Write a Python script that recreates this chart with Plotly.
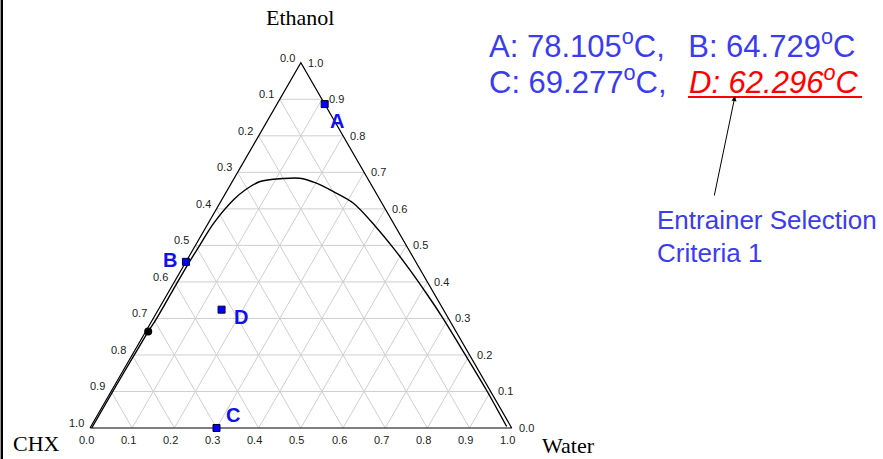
import math
import plotly.graph_objects as go

# ---------------- data ----------------
tick_values = [0.0, 0.1, 0.2, 0.3, 0.4, 0.5, 0.6, 0.7, 0.8, 0.9, 1.0]
tick_labels = ["0.0", "0.1", "0.2", "0.3", "0.4", "0.5", "0.6", "0.7", "0.8", "0.9", "1.0"]
grid_values = [0.1, 0.2, 0.3, 0.4, 0.5, 0.6, 0.7, 0.8, 0.9]

# binodal curve: (ethanol, water) mole fractions; CHX = 1 - ethanol - water
curve_ethanol = [0.000, 0.050, 0.113, 0.200, 0.264, 0.296, 0.378, 0.442, 0.501, 0.561,
                 0.625, 0.653, 0.675, 0.683, 0.684, 0.671, 0.647, 0.616, 0.552, 0.492,
                 0.433, 0.369, 0.305, 0.205, 0.104, 0.004]
curve_water = [0.004, 0.004, 0.004, 0.005, 0.006, 0.008, 0.008, 0.008, 0.010, 0.013,
               0.028, 0.043, 0.066, 0.115, 0.155, 0.200, 0.254, 0.316, 0.401, 0.474,
               0.542, 0.613, 0.682, 0.785, 0.888, 0.986]

point_names = ["A", "B", "C", "D"]
point_ethanol = [0.887, 0.455, 0.000, 0.324]
point_water = [0.113, 0.000, 0.300, 0.150]
point_temps = [78.105, 64.729, 69.277, 62.296]

azeo_ethanol = [0.264]
azeo_water = [0.006]

vertex_names = ["Ethanol", "CHX", "Water"]

# ---------------- helpers ----------------
S3 = math.sqrt(3) / 2


def to_xy(eth, water):
    return water + eth / 2.0, eth * S3


W, H = 883, 459
X0, Y0, SCALE = 90.0, 428.0, 421.7  # pixel position of CHX vertex and px per unit side


def px(xp, yp):
    return xp / W, 1 - yp / H


fig = go.Figure()

# grid lines
gx, gy = [], []
for t in grid_values:
    for (e1, w1), (e2, w2) in [
        ((t, 0.0), (t, 1 - t)),            # constant ethanol
        ((0.0, t), (1 - t, t)),            # constant water
        ((0.0, 1 - t), (1 - t, 0.0)),      # constant CHX
    ]:
        a = to_xy(e1, w1)
        b = to_xy(e2, w2)
        gx += [a[0], b[0], None]
        gy += [a[1], b[1], None]
fig.add_trace(go.Scatter(x=gx, y=gy, mode="lines", line=dict(color="#cfcfcf", width=1),
                         hoverinfo="skip", showlegend=False))

# curve
cx, cy = zip(*[to_xy(e, w) for e, w in zip(curve_ethanol, curve_water)])
fig.add_trace(go.Scatter(x=list(cx), y=list(cy), mode="lines",
                         line=dict(color="black", width=1.4, shape="spline", smoothing=0.9),
                         showlegend=False))

# triangle
tri = [to_xy(0, 0), to_xy(0, 1), to_xy(1, 0), to_xy(0, 0)]
fig.add_trace(go.Scatter(x=[p[0] for p in tri], y=[p[1] for p in tri], mode="lines",
                         line=dict(color="black", width=1.2), showlegend=False))

# azeotrope dot
ax_, ay_ = zip(*[to_xy(e, w) for e, w in zip(azeo_ethanol, azeo_water)])
fig.add_trace(go.Scatter(x=list(ax_), y=list(ay_), mode="markers",
                         marker=dict(color="black", size=8), showlegend=False))

# points
pxs, pys = zip(*[to_xy(e, w) for e, w in zip(point_ethanol, point_water)])
fig.add_trace(go.Scatter(x=list(pxs), y=list(pys), mode="markers",
                         marker=dict(symbol="square", color="#0000ff", size=7,
                                     line=dict(color="#000033", width=1)),
                         showlegend=False))

annotations = []
tick_font = dict(family="Liberation Sans, Arial, sans-serif", size=11, color="#222222")
for t, lab in zip(tick_values, tick_labels):
    # left edge: CHX fraction
    x, y = to_xy(1 - t, 0.0)
    annotations.append(dict(x=x, y=y, text=lab, showarrow=False, xanchor="right", yanchor="middle",
                            xshift=-4, yshift=5, font=tick_font))
    # bottom edge: water fraction
    x, y = to_xy(0.0, t)
    annotations.append(dict(x=x, y=y, text=lab, showarrow=False, xanchor="center", yanchor="middle",
                            xshift=-4, yshift=-12, font=tick_font))
    # right edge: ethanol fraction
    x, y = to_xy(t, 1 - t)
    annotations.append(dict(x=x, y=y, text=lab, showarrow=False, xanchor="left", yanchor="middle",
                            xshift=5, yshift=0, font=tick_font))

# point labels
label_shifts = {"A": (12, -17), "B": (-16, 2), "C": (16, 13), "D": (19, -7)}
lab_font = dict(family="Liberation Sans, Arial, sans-serif", size=20, color="#1010f0")
for n, x, y in zip(point_names, pxs, pys):
    dx, dy = label_shifts[n]
    annotations.append(dict(x=x, y=y, text="<b>%s</b>" % n, showarrow=False, xanchor="center",
                            yanchor="middle", xshift=dx, yshift=dy, font=lab_font))

# vertex titles
serif = dict(family="Liberation Serif, Times New Roman, serif", size=22, color="black")
for name, (xp, yp) in zip(vertex_names, [(300, 18), (36, 443), (568, 445)]):
    x, y = px(xp, yp)
    annotations.append(dict(x=x, y=y, xref="paper", yref="paper", text=name, showarrow=False,
                            xanchor="center", yanchor="middle", font=serif))

# temperature text
blue = "#3b3bf2"
big = dict(family="Liberation Sans, Arial, sans-serif", size=31, color=blue)
NB = "\u00a0"
t_txt = ["%s: %.3f<sup>o</sup>C" % (n, v) for n, v in zip(point_names, point_temps)]
x, y = px(487, 44)
annotations.append(dict(x=x, y=y, xref="paper", yref="paper",
                        text=t_txt[0] + "," + NB * 2 + "\u2009" + t_txt[1],
                        showarrow=False, xanchor="left", yanchor="middle", font=big))
x, y = px(487, 80)
annotations.append(dict(x=x, y=y, xref="paper", yref="paper", text=t_txt[2] + ",",
                        showarrow=False, xanchor="left", yanchor="middle", font=big))
x, y = px(687, 80)
annotations.append(dict(x=x, y=y, xref="paper", yref="paper", text="<i>" + t_txt[3] + "</i>",
                        showarrow=False, xanchor="left", yanchor="middle",
                        font=dict(family="Liberation Sans, Arial, sans-serif", size=31, color="#ff0000")))

# arrow
x, y = px(735, 96)
annotations.append(dict(x=x, y=y, xref="paper", yref="paper", text="", showarrow=True,
                        ax=-21, ay=101, arrowhead=2, arrowsize=1, arrowwidth=1, arrowcolor="black",
                        standoff=0, startstandoff=0))

ent_font = dict(family="Liberation Sans, Arial, sans-serif", size=26, color=blue)
for txt, yp in [("Entrainer Selection", 220), ("Criteria 1", 253)]:
    x, y = px(655, yp)
    annotations.append(dict(x=x, y=y, xref="paper", yref="paper", text=txt, showarrow=False,
                            xanchor="left", yanchor="middle", font=ent_font))

shapes = [
    dict(type="rect", xref="paper", yref="paper", x0=0.6 / W, x1=3.0 / W, y0=0, y1=1,
         line=dict(width=0), fillcolor="black", layer="above"),
    dict(type="line", xref="paper", yref="paper", x0=688 / W, x1=862 / W, y0=1 - 97 / H, y1=1 - 97 / H,
         line=dict(color="#ff0000", width=2)),
]

fig.update_layout(
    width=W, height=H,
    margin=dict(l=0, r=0, t=0, b=0),
    paper_bgcolor="white", plot_bgcolor="white",
    xaxis=dict(range=[-X0 / SCALE, (W - X0) / SCALE], visible=False, fixedrange=True),
    yaxis=dict(range=[(Y0 - H) / SCALE, Y0 / SCALE], visible=False, fixedrange=True),
    annotations=annotations,
    shapes=shapes,
    showlegend=False,
)

fig.write_html("out.html")
